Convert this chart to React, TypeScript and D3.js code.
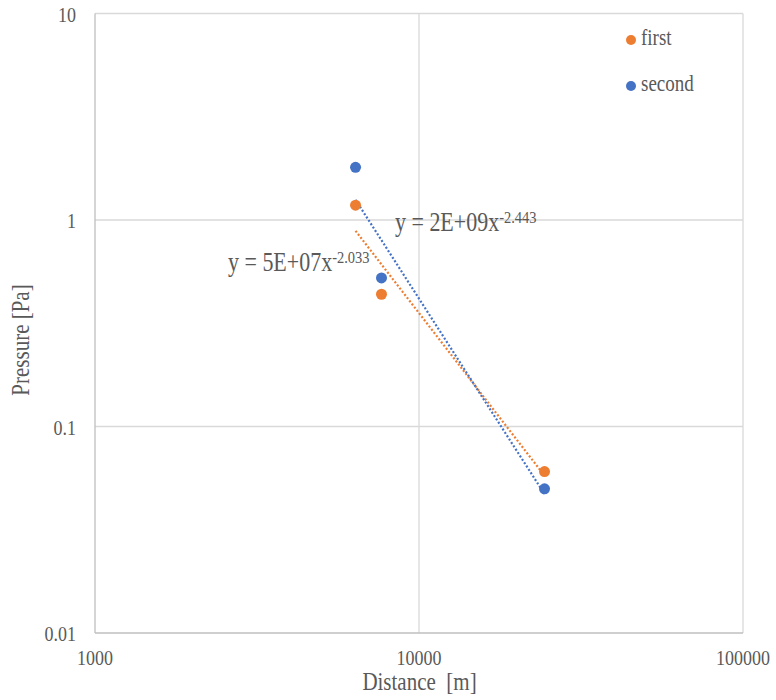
import React from "react";
import * as d3 from "d3";

// Measured distances [m] shared by both series
const distances = [6370, 7660, 24400];
// Pressure readings [Pa]
const firstValues = [1.18, 0.437, 0.0605];
const secondValues = [1.8, 0.524, 0.0499];

const seriesNames = ["first", "second"];
const seriesColors = ["#ED7D31", "#4472C4"];

const xTicks = [1000, 10000, 100000];
const xTickLabels = ["1000", "10000", "100000"];
const yTicks = [10, 1, 0.1, 0.01];
const yTickLabels = ["10", "1", "0.1", "0.01"];

const W = 776;
const H = 700;
const plot = { left: 95, right: 743, top: 13.5, bottom: 633 };
const STRETCH = 1.2; // tall, narrow glyph proportions

// Least-squares power fit y = a * x^b (linear regression in log-log space)
function powerFit(xs: number[], ys: number[]) {
  const lx = xs.map(Math.log10);
  const ly = ys.map(Math.log10);
  const mx = d3.mean(lx)!;
  const my = d3.mean(ly)!;
  let sxy = 0;
  let sxx = 0;
  lx.forEach((v, i) => {
    sxy += (v - mx) * (ly[i] - my);
    sxx += (v - mx) * (v - mx);
  });
  const b = sxy / sxx;
  const loga = my - b * mx;
  return { a: Math.pow(10, loga), b };
}

function formatCoef(a: number) {
  const exp = Math.floor(Math.log10(a));
  let mant = Math.round(a / Math.pow(10, exp));
  let e = exp;
  if (mant >= 10) {
    mant = 1;
    e += 1;
  }
  return `${mant}E+${String(e).padStart(2, "0")}`;
}

const FONT = "'Liberation Serif', 'Times New Roman', serif";
const LABEL = "#595959";

function SText(props: {
  x: number;
  y: number;
  size: number;
  anchor?: "start" | "middle" | "end";
  rotate?: number;
  children: React.ReactNode;
  pre?: boolean;
}) {
  const { x, y, size, anchor = "start", rotate = 0, children, pre } = props;
  return (
    <text
      transform={`translate(${x},${y}) rotate(${rotate}) scale(1,${STRETCH})`}
      textAnchor={anchor}
      fontSize={size}
      fontFamily={FONT}
      fill={LABEL}
      style={pre ? { whiteSpace: "pre" } : undefined}
    >
      {children}
    </text>
  );
}

export default function App() {
  const x = d3.scaleLog().domain([1000, 100000]).range([plot.left, plot.right]);
  const y = d3.scaleLog().domain([0.01, 10]).range([plot.bottom, plot.top]);

  const series = [firstValues, secondValues];
  const fits = series.map((vals) => powerFit(distances, vals));
  const [xMin, xMax] = d3.extent(distances) as [number, number];
  const fitX = d3.range(0, 41).map((i) => xMin * Math.pow(xMax / xMin, i / 40));
  const line = d3
    .line<[number, number]>()
    .x((d) => x(d[0]))
    .y((d) => y(d[1]));

  // Equation label anchors (start of text, baseline)
  const eqPos = [
    { x: 228, y: 271 },
    { x: 395, y: 231 },
  ];

  return (
    <svg width={W} height={H} style={{ display: "block", position: "absolute", left: 0, top: 0 }}>
      <rect x={0} y={0} width={W} height={H} fill="#fff" />
      {/* gridlines */}
      {xTicks.slice(1).map((t) => (
        <line key={"gx" + t} x1={x(t)} x2={x(t)} y1={plot.top} y2={plot.bottom} stroke="#d9d9d9" strokeWidth={1.3} />
      ))}
      {yTicks.slice(0, -1).map((t) => (
        <line key={"gy" + t} x1={plot.left} x2={plot.right} y1={y(t)} y2={y(t)} stroke="#d9d9d9" strokeWidth={1.3} />
      ))}
      {/* axes */}
      <line x1={plot.left} x2={plot.left} y1={plot.top} y2={plot.bottom} stroke="#bfbfbf" strokeWidth={1.3} />
      <line x1={plot.left} x2={plot.right} y1={plot.bottom} y2={plot.bottom} stroke="#bfbfbf" strokeWidth={1.3} />
      {/* y tick labels */}
      {yTicks.map((t, i) => (
        <SText key={"yl" + t} x={76} y={y(t) + 8} size={18} anchor="end">
          {yTickLabels[i]}
        </SText>
      ))}
      {/* x tick labels */}
      {xTicks.map((t, i) => (
        <SText key={"xl" + t} x={x(t)} y={665} size={18} anchor="middle">
          {xTickLabels[i]}
        </SText>
      ))}
      {/* axis titles */}
      <SText x={419.5} y={690} size={21} anchor="middle" pre>
        {"Distance  [m]"}
      </SText>
      <SText x={29} y={340} size={21} anchor="middle" rotate={-90}>
        Pressure [Pa]
      </SText>
      {/* trendlines */}
      {fits.map((f, i) => (
        <path
          key={"fit" + i}
          d={line(fitX.map((v) => [v, f.a * Math.pow(v, f.b)]))!}
          fill="none"
          stroke={seriesColors[i]}
          strokeWidth={2.2}
          strokeDasharray="2 2"
        />
      ))}
      {/* points */}
      {series.map((vals, i) =>
        vals.map((v, j) => (
          <circle key={`p${i}-${j}`} cx={x(distances[j])} cy={y(v)} r={5.5} fill={seriesColors[i]} />
        ))
      )}
      {/* trendline equations */}
      {fits.map((f, i) => (
        <SText key={"eq" + i} x={eqPos[i].x} y={eqPos[i].y} size={22}>
          {`y = ${formatCoef(f.a)}x`}
          <tspan dy={-6.5} fontSize={14.5}>
            {f.b.toFixed(3)}
          </tspan>
        </SText>
      ))}
      {/* legend */}
      {seriesNames.map((name, i) => (
        <g key={"lg" + name}>
          <circle cx={631} cy={40 + i * 46} r={5} fill={seriesColors[i]} />
          <SText x={641} y={45 + i * 46} size={19}>
            {name}
          </SText>
        </g>
      ))}
    </svg>
  );
}
